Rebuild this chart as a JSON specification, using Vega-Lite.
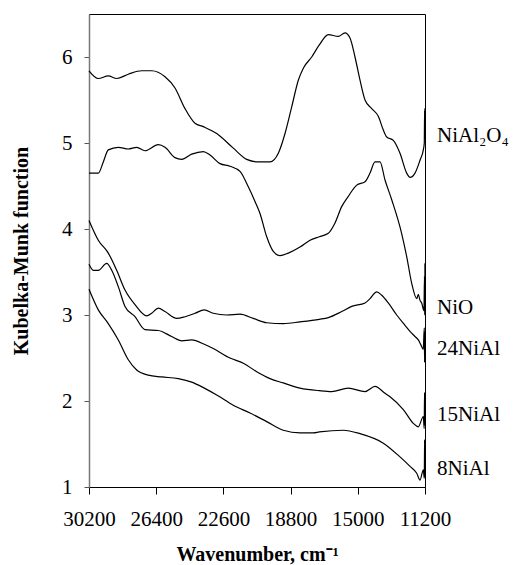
{
  "$schema": "https://vega.github.io/schema/vega-lite/v6.json",
  "autosize": {"type": "none"},
  "width": 336,
  "height": 473,
  "padding": {"left": 89, "top": 14, "right": 90, "bottom": 78},
  "background": "white",
  "config": {
    "view": {"stroke": "black", "strokeWidth": 1},
    "font": "Liberation Serif"
  },
  "datasets": {
    "curves": [
      {"series": "NiAl2O4", "wn": 30200, "k": 5.84},
      {"series": "NiAl2O4", "wn": 29674, "k": 5.75},
      {"series": "NiAl2O4", "wn": 29109, "k": 5.78},
      {"series": "NiAl2O4", "wn": 28634, "k": 5.75},
      {"series": "NiAl2O4", "wn": 27978, "k": 5.80},
      {"series": "NiAl2O4", "wn": 27220, "k": 5.84},
      {"series": "NiAl2O4", "wn": 26654, "k": 5.84},
      {"series": "NiAl2O4", "wn": 25902, "k": 5.77},
      {"series": "NiAl2O4", "wn": 25337, "k": 5.64},
      {"series": "NiAl2O4", "wn": 24771, "k": 5.40},
      {"series": "NiAl2O4", "wn": 24206, "k": 5.23},
      {"series": "NiAl2O4", "wn": 23736, "k": 5.19},
      {"series": "NiAl2O4", "wn": 22979, "k": 5.11},
      {"series": "NiAl2O4", "wn": 22040, "k": 4.94},
      {"series": "NiAl2O4", "wn": 21282, "k": 4.81},
      {"series": "NiAl2O4", "wn": 20626, "k": 4.78},
      {"series": "NiAl2O4", "wn": 19964, "k": 4.78},
      {"series": "NiAl2O4", "wn": 19495, "k": 4.88},
      {"series": "NiAl2O4", "wn": 19116, "k": 5.11},
      {"series": "NiAl2O4", "wn": 18737, "k": 5.42},
      {"series": "NiAl2O4", "wn": 18364, "k": 5.73},
      {"series": "NiAl2O4", "wn": 18081, "k": 5.87},
      {"series": "NiAl2O4", "wn": 17606, "k": 6.00},
      {"series": "NiAl2O4", "wn": 17177, "k": 6.14},
      {"series": "NiAl2O4", "wn": 16668, "k": 6.26},
      {"series": "NiAl2O4", "wn": 16102, "k": 6.24},
      {"series": "NiAl2O4", "wn": 15723, "k": 6.28},
      {"series": "NiAl2O4", "wn": 15441, "k": 6.22},
      {"series": "NiAl2O4", "wn": 15158, "k": 6.00},
      {"series": "NiAl2O4", "wn": 14875, "k": 5.73},
      {"series": "NiAl2O4", "wn": 14592, "k": 5.50},
      {"series": "NiAl2O4", "wn": 14213, "k": 5.40},
      {"series": "NiAl2O4", "wn": 13840, "k": 5.31},
      {"series": "NiAl2O4", "wn": 13556, "k": 5.15},
      {"series": "NiAl2O4", "wn": 13365, "k": 5.07},
      {"series": "NiAl2O4", "wn": 12992, "k": 5.03},
      {"series": "NiAl2O4", "wn": 12613, "k": 4.88},
      {"series": "NiAl2O4", "wn": 12235, "k": 4.65},
      {"series": "NiAl2O4", "wn": 12047, "k": 4.60},
      {"series": "NiAl2O4", "wn": 11765, "k": 4.65},
      {"series": "NiAl2O4", "wn": 11482, "k": 4.80},
      {"series": "NiAl2O4", "wn": 11295, "k": 4.92},
      {"series": "NiAl2O4", "wn": 11240, "k": 5.00},
      {"series": "NiAl2O4", "wn": 11222, "k": 5.38},
      {"series": "NiAl2O4", "wn": 11212, "k": 5.05},
      {"series": "NiAl2O4", "wn": 11205, "k": 5.40},
      {"series": "NiAl2O4", "wn": 11200, "k": 5.12},

      {"series": "NiO", "wn": 30200, "k": 4.65},
      {"series": "NiO", "wn": 29674, "k": 4.65},
      {"series": "NiO", "wn": 29391, "k": 4.78},
      {"series": "NiO", "wn": 29109, "k": 4.92},
      {"series": "NiO", "wn": 28543, "k": 4.95},
      {"series": "NiO", "wn": 27978, "k": 4.93},
      {"series": "NiO", "wn": 27503, "k": 4.95},
      {"series": "NiO", "wn": 27033, "k": 4.91},
      {"series": "NiO", "wn": 26281, "k": 4.98},
      {"series": "NiO", "wn": 25902, "k": 4.95},
      {"series": "NiO", "wn": 25337, "k": 4.83},
      {"series": "NiO", "wn": 24958, "k": 4.81},
      {"series": "NiO", "wn": 24392, "k": 4.87},
      {"series": "NiO", "wn": 23736, "k": 4.90},
      {"series": "NiO", "wn": 23357, "k": 4.86},
      {"series": "NiO", "wn": 22792, "k": 4.76},
      {"series": "NiO", "wn": 22227, "k": 4.73},
      {"series": "NiO", "wn": 21661, "k": 4.67},
      {"series": "NiO", "wn": 21192, "k": 4.49},
      {"series": "NiO", "wn": 20813, "k": 4.32},
      {"series": "NiO", "wn": 20530, "k": 4.18},
      {"series": "NiO", "wn": 20151, "k": 3.91},
      {"series": "NiO", "wn": 19778, "k": 3.74},
      {"series": "NiO", "wn": 19399, "k": 3.69},
      {"series": "NiO", "wn": 18929, "k": 3.72},
      {"series": "NiO", "wn": 18268, "k": 3.79},
      {"series": "NiO", "wn": 17702, "k": 3.87},
      {"series": "NiO", "wn": 17177, "k": 3.91},
      {"series": "NiO", "wn": 16668, "k": 3.95},
      {"series": "NiO", "wn": 16289, "k": 4.07},
      {"series": "NiO", "wn": 15912, "k": 4.26},
      {"series": "NiO", "wn": 15537, "k": 4.38},
      {"series": "NiO", "wn": 15062, "k": 4.51},
      {"series": "NiO", "wn": 14592, "k": 4.55},
      {"series": "NiO", "wn": 14310, "k": 4.65},
      {"series": "NiO", "wn": 14027, "k": 4.78},
      {"series": "NiO", "wn": 13744, "k": 4.78},
      {"series": "NiO", "wn": 13461, "k": 4.57},
      {"series": "NiO", "wn": 13082, "k": 4.34},
      {"series": "NiO", "wn": 12523, "k": 3.95},
      {"series": "NiO", "wn": 12235, "k": 3.68},
      {"series": "NiO", "wn": 11954, "k": 3.37},
      {"series": "NiO", "wn": 11668, "k": 3.19},
      {"series": "NiO", "wn": 11578, "k": 3.24},
      {"series": "NiO", "wn": 11482, "k": 3.17},
      {"series": "NiO", "wn": 11387, "k": 3.14},
      {"series": "NiO", "wn": 11260, "k": 3.05},
      {"series": "NiO", "wn": 11228, "k": 3.45},
      {"series": "NiO", "wn": 11215, "k": 3.00},
      {"series": "NiO", "wn": 11205, "k": 3.60},
      {"series": "NiO", "wn": 11200, "k": 3.10},

      {"series": "24NiAl", "wn": 30200, "k": 4.10},
      {"series": "24NiAl", "wn": 29674, "k": 3.87},
      {"series": "24NiAl", "wn": 29109, "k": 3.72},
      {"series": "24NiAl", "wn": 28634, "k": 3.52},
      {"series": "24NiAl", "wn": 28164, "k": 3.29},
      {"series": "24NiAl", "wn": 27599, "k": 3.12},
      {"series": "24NiAl", "wn": 26937, "k": 2.99},
      {"series": "24NiAl", "wn": 26654, "k": 3.02},
      {"series": "24NiAl", "wn": 26281, "k": 3.08},
      {"series": "24NiAl", "wn": 25902, "k": 3.04},
      {"series": "24NiAl", "wn": 25241, "k": 2.96},
      {"series": "24NiAl", "wn": 24771, "k": 2.98},
      {"series": "24NiAl", "wn": 24206, "k": 3.02},
      {"series": "24NiAl", "wn": 23680, "k": 3.06},
      {"series": "24NiAl", "wn": 23171, "k": 3.02},
      {"series": "24NiAl", "wn": 22413, "k": 3.00},
      {"series": "24NiAl", "wn": 21661, "k": 3.01},
      {"series": "24NiAl", "wn": 20909, "k": 2.96},
      {"series": "24NiAl", "wn": 20151, "k": 2.91},
      {"series": "24NiAl", "wn": 19212, "k": 2.90},
      {"series": "24NiAl", "wn": 18268, "k": 2.92},
      {"series": "24NiAl", "wn": 17177, "k": 2.95},
      {"series": "24NiAl", "wn": 16668, "k": 2.97},
      {"series": "24NiAl", "wn": 15912, "k": 3.04},
      {"series": "24NiAl", "wn": 15345, "k": 3.10},
      {"series": "24NiAl", "wn": 14592, "k": 3.14},
      {"series": "24NiAl", "wn": 14310, "k": 3.19},
      {"series": "24NiAl", "wn": 13931, "k": 3.27},
      {"series": "24NiAl", "wn": 13648, "k": 3.23},
      {"series": "24NiAl", "wn": 13275, "k": 3.14},
      {"series": "24NiAl", "wn": 12800, "k": 3.00},
      {"series": "24NiAl", "wn": 12331, "k": 2.88},
      {"series": "24NiAl", "wn": 12047, "k": 2.81},
      {"series": "24NiAl", "wn": 11765, "k": 2.75},
      {"series": "24NiAl", "wn": 11578, "k": 2.71},
      {"series": "24NiAl", "wn": 11425, "k": 2.65},
      {"series": "24NiAl", "wn": 11300, "k": 2.60},
      {"series": "24NiAl", "wn": 11240, "k": 2.85},
      {"series": "24NiAl", "wn": 11222, "k": 2.45},
      {"series": "24NiAl", "wn": 11210, "k": 2.80},
      {"series": "24NiAl", "wn": 11200, "k": 2.50},

      {"series": "15NiAl", "wn": 30200, "k": 3.59},
      {"series": "15NiAl", "wn": 29957, "k": 3.52},
      {"series": "15NiAl", "wn": 29674, "k": 3.52},
      {"series": "15NiAl", "wn": 29199, "k": 3.60},
      {"series": "15NiAl", "wn": 28916, "k": 3.52},
      {"series": "15NiAl", "wn": 28543, "k": 3.33},
      {"series": "15NiAl", "wn": 28164, "k": 3.10},
      {"series": "15NiAl", "wn": 27599, "k": 2.98},
      {"series": "15NiAl", "wn": 27033, "k": 2.83},
      {"series": "15NiAl", "wn": 26281, "k": 2.82},
      {"series": "15NiAl", "wn": 25523, "k": 2.75},
      {"series": "15NiAl", "wn": 24958, "k": 2.70},
      {"series": "15NiAl", "wn": 24392, "k": 2.71},
      {"series": "15NiAl", "wn": 23680, "k": 2.66},
      {"series": "15NiAl", "wn": 23171, "k": 2.61},
      {"series": "15NiAl", "wn": 22227, "k": 2.50},
      {"series": "15NiAl", "wn": 21474, "k": 2.44},
      {"series": "15NiAl", "wn": 20717, "k": 2.34},
      {"series": "15NiAl", "wn": 19964, "k": 2.26},
      {"series": "15NiAl", "wn": 19212, "k": 2.21},
      {"series": "15NiAl", "wn": 18268, "k": 2.15},
      {"series": "15NiAl", "wn": 17177, "k": 2.12},
      {"series": "15NiAl", "wn": 16481, "k": 2.11},
      {"series": "15NiAl", "wn": 15537, "k": 2.15},
      {"series": "15NiAl", "wn": 14592, "k": 2.11},
      {"series": "15NiAl", "wn": 14027, "k": 2.17},
      {"series": "15NiAl", "wn": 13461, "k": 2.09},
      {"series": "15NiAl", "wn": 13178, "k": 2.05},
      {"series": "15NiAl", "wn": 12426, "k": 1.90},
      {"series": "15NiAl", "wn": 11860, "k": 1.74},
      {"series": "15NiAl", "wn": 11578, "k": 1.70},
      {"series": "15NiAl", "wn": 11295, "k": 1.82},
      {"series": "15NiAl", "wn": 11245, "k": 1.68},
      {"series": "15NiAl", "wn": 11225, "k": 2.10},
      {"series": "15NiAl", "wn": 11212, "k": 1.72},
      {"series": "15NiAl", "wn": 11204, "k": 2.05},
      {"series": "15NiAl", "wn": 11200, "k": 1.80},

      {"series": "8NiAl", "wn": 30200, "k": 3.30},
      {"series": "8NiAl", "wn": 29674, "k": 3.06},
      {"series": "8NiAl", "wn": 29109, "k": 2.90},
      {"series": "8NiAl", "wn": 28543, "k": 2.71},
      {"series": "8NiAl", "wn": 27978, "k": 2.48},
      {"series": "8NiAl", "wn": 27503, "k": 2.36},
      {"series": "8NiAl", "wn": 26847, "k": 2.30},
      {"series": "8NiAl", "wn": 26089, "k": 2.28},
      {"series": "8NiAl", "wn": 25150, "k": 2.26},
      {"series": "8NiAl", "wn": 24392, "k": 2.22},
      {"series": "8NiAl", "wn": 23680, "k": 2.15},
      {"series": "8NiAl", "wn": 22979, "k": 2.07},
      {"series": "8NiAl", "wn": 22040, "k": 1.95},
      {"series": "8NiAl", "wn": 21095, "k": 1.86},
      {"series": "8NiAl", "wn": 20151, "k": 1.76},
      {"series": "8NiAl", "wn": 19212, "k": 1.66},
      {"series": "8NiAl", "wn": 18268, "k": 1.63},
      {"series": "8NiAl", "wn": 17516, "k": 1.63},
      {"series": "8NiAl", "wn": 17177, "k": 1.64},
      {"series": "8NiAl", "wn": 15821, "k": 1.66},
      {"series": "8NiAl", "wn": 14875, "k": 1.62},
      {"series": "8NiAl", "wn": 13556, "k": 1.51},
      {"series": "8NiAl", "wn": 12613, "k": 1.35},
      {"series": "8NiAl", "wn": 12047, "k": 1.24},
      {"series": "8NiAl", "wn": 11668, "k": 1.16},
      {"series": "8NiAl", "wn": 11482, "k": 1.08},
      {"series": "8NiAl", "wn": 11295, "k": 1.20},
      {"series": "8NiAl", "wn": 11240, "k": 1.10},
      {"series": "8NiAl", "wn": 11222, "k": 1.55},
      {"series": "8NiAl", "wn": 11212, "k": 1.12},
      {"series": "8NiAl", "wn": 11204, "k": 1.50},
      {"series": "8NiAl", "wn": 11200, "k": 1.20}
    ],
    "labels": [
      {"label": "NiAl₂O₄", "wn": 10521, "k": 5.08},
      {"label": "NiO", "wn": 10521, "k": 3.08},
      {"label": "24NiAl", "wn": 10521, "k": 2.60},
      {"label": "15NiAl", "wn": 10521, "k": 1.84},
      {"label": "8NiAl", "wn": 10521, "k": 1.21}
    ]
  },
  "layer": [
    {
      "data": {"name": "curves"},
      "mark": {"type": "line", "strokeWidth": 1.2, "color": "black", "interpolate": "monotone"},
      "encoding": {
        "x": {
          "field": "wn", "type": "quantitative",
          "scale": {"domain": [11200, 30200], "reverse": true, "nice": false, "zero": false},
          "axis": {
            "values": [30200, 26400, 22600, 18800, 15000, 11200],
            "format": "d",
            "title": "Wavenumber, cm⁻¹",
            "titleFont": "Liberation Serif", "titleFontSize": 20, "titleFontWeight": "bold", "titleColor": "black",
            "titlePadding": 15,
            "labelFont": "Liberation Serif", "labelFontSize": 21, "labelColor": "black",
            "labelPadding": 14, "labelFlush": false, "labelOverlap": false,
            "tickSize": 7, "tickColor": "black", "domainColor": "black", "grid": false
          }
        },
        "y": {
          "field": "k", "type": "quantitative",
          "scale": {"domain": [1, 6.5], "nice": false, "zero": false},
          "axis": {
            "values": [1, 2, 3, 4, 5, 6],
            "format": "d",
            "title": "Kubelka-Munk function",
            "titleFont": "Liberation Serif", "titleFontSize": 20, "titleFontWeight": "bold", "titleColor": "black",
            "titlePadding": 30,
            "labelFont": "Liberation Serif", "labelFontSize": 21, "labelColor": "black",
            "labelPadding": 12, "labelFlush": false,
            "tickSize": 5, "tickColor": "#555555", "domainColor": "#777777", "domainWidth": 1.5, "grid": false
          }
        },
        "detail": {"field": "series"}
      }
    },
    {
      "data": {"name": "labels"},
      "mark": {"type": "text", "align": "left", "baseline": "middle", "font": "Liberation Serif", "fontSize": 21, "color": "black"},
      "encoding": {
        "x": {"field": "wn", "type": "quantitative"},
        "y": {"field": "k", "type": "quantitative"},
        "text": {"field": "label"}
      }
    }
  ]
}
